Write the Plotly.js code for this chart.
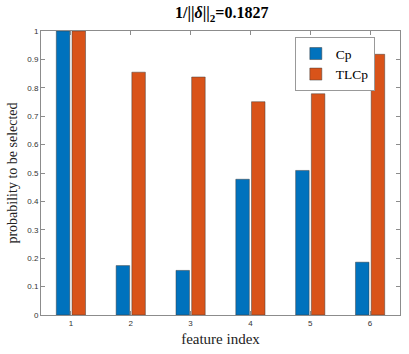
<!DOCTYPE html>
<html>
<head>
<meta charset="utf-8">
<script src="https://cdn.plot.ly/plotly-3.0.1.min.js"></script>
<style>
  html, body { margin: 0; padding: 0; background: #fff; }
  #chart { width: 409px; height: 354px; }
</style>
</head>
<body>
<div id="chart"></div>
<script>
// feature indices and selection probabilities
var features = [1, 2, 3, 4, 5, 6];
var cpValues = [1, 0.174, 0.157, 0.478, 0.509, 0.186];
var tlcpValues = [1, 0.855, 0.838, 0.751, 0.779, 0.918];
var yTicks = [0, 0.1, 0.2, 0.3, 0.4, 0.5, 0.6, 0.7, 0.8, 0.9, 1];

var serif = "'Liberation Serif', 'Times New Roman', serif";
var sans = "'Liberation Sans', Helvetica, Arial, sans-serif";
var axisColor = "#8c8c8c";

var cp = {
    x: features,
    y: cpValues,
    name: "Cp",
    type: "bar",
    marker: {color: "#0072BD", line: {color: "rgba(60,60,60,0.6)", width: 0.8}}
};
var tlcp = {
    x: features,
    y: tlcpValues,
    name: "TLCp",
    type: "bar",
    marker: {color: "#D95319", line: {color: "rgba(60,60,60,0.6)", width: 0.8}}
};

var layout = {
    width: 409,
    height: 354,
    margin: {l: 41, r: 9, t: 31, b: 39},
    paper_bgcolor: "#fff",
    plot_bgcolor: "#fff",
    barmode: "group",
    bargap: 0.475,
    bargroupgap: 0.14,
    title: {
        text: "<b>1/||<i>δ</i>||<sub>2</sub>=0.1827</b>",
        font: {family: serif, size: 16, color: "#000"},
        x: 0.542, xanchor: "center",
        y: 0.98, yanchor: "top"
    },
    xaxis: {
        range: [0.5, 6.5],
        tickvals: features,
        ticks: "inside", ticklen: 4, tickcolor: axisColor,
        showline: true, linecolor: axisColor, linewidth: 1, mirror: "ticks",
        showgrid: false, zeroline: false,
        tickfont: {family: sans, size: 8, color: "#333"},
        title: {text: "feature index", font: {family: serif, size: 15, color: "#222"}, standoff: 6}
    },
    yaxis: {
        range: [0, 1],
        tickvals: yTicks,
        ticks: "inside", ticklen: 4, tickcolor: axisColor,
        showline: true, linecolor: axisColor, linewidth: 1, mirror: "ticks",
        showgrid: false, zeroline: false,
        tickfont: {family: sans, size: 8, color: "#333"},
        title: {text: "probability to be selected", font: {family: serif, size: 14, color: "#222"}, standoff: 6}
    },
    legend: {
        x: 0.707, y: 0.978, xanchor: "left", yanchor: "top",
        bgcolor: "#fff", bordercolor: "#999", borderwidth: 1,
        font: {family: serif, size: 13.5, color: "#000"},
        tracegroupgap: 0, itemwidth: 30
    },
    showlegend: true
};

Plotly.newPlot("chart", [cp, tlcp], layout, {displayModeBar: false, staticPlot: true});
</script>
</body>
</html>
